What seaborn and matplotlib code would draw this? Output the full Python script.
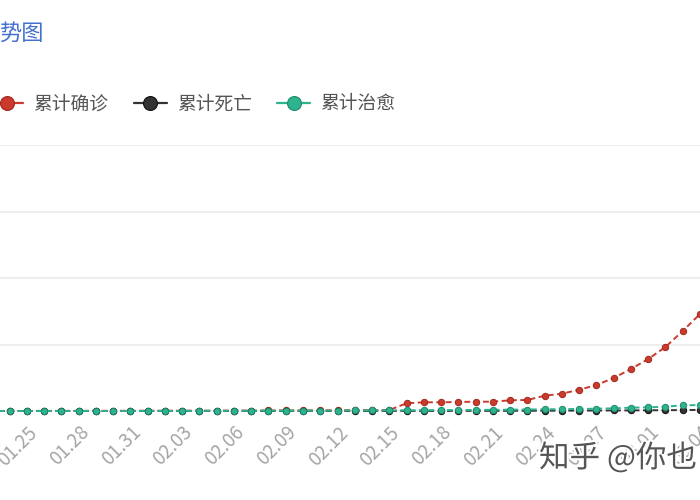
import numpy as np
import pandas as pd
import matplotlib
matplotlib.use("Agg")
import matplotlib.pyplot as plt
import matplotlib.patheffects as pe
from matplotlib.lines import Line2D
import seaborn as sns

# 数据（01.22 ~ 03.04）
dates = pd.date_range("2020-01-22", "2020-03-04", freq="D").strftime("%m.%d").tolist()
confirmed = [1, 1, 2, 2, 3, 4, 5, 5, 6, 7, 8, 9, 10, 11, 12, 13, 15, 16, 18, 19,
             21, 23, 25, 27, 30, 232, 262, 262, 271, 280, 280, 322, 331, 460, 520,
             641, 782, 993, 1263, 1564, 1925, 2406, 2918]
deaths = [0, 0, 0, 0, 0, 0, 0, 0, 0, 0, 0, 0, 0, 0, 0, 0, 0, 0, 0, 0,
          1, 1, 1, 2, 2, 2, 3, 3, 4, 4, 5, 6, 7, 8, 10, 12, 14, 16, 18, 21,
          24, 28, 32]
recovered = [0, 0, 0, 0, 0, 0, 1, 1, 1, 1, 2, 2, 3, 4, 5, 6, 7, 8, 9, 10,
             12, 14, 16, 18, 20, 22, 25, 28, 30, 33, 36, 40, 45, 50, 55, 62,
             70, 80, 100, 110, 130, 170, 180]
series_names = ["累计确诊", "累计死亡", "累计治愈"]
series_colors = ["#cc3a2c", "#333333", "#2db38e"]
edge_colors = ["#9e2a20", "#111111", "#1f8a6c"]

df = pd.DataFrame({"idx": np.arange(len(dates)), "date": dates,
                   "累计确诊": confirmed, "累计死亡": deaths, "累计治愈": recovered})

sns.set_style("white")
plt.rcParams["font.family"] = ["Noto Sans CJK SC", "DejaVu Sans"]

fig = plt.figure(figsize=(7, 5), dpi=100)
ax = fig.add_axes([0, 0.178, 1, 0.532])

for name, c, ec in zip(series_names, series_colors, edge_colors):
    sns.lineplot(data=df, x="idx", y=name, ax=ax, color=c, legend=False,
                 linestyle=(0, (3, 1.8)), linewidth=1.4, marker="o",
                 markersize=4.6, markeredgecolor=ec, markeredgewidth=0.7,
                 clip_on=False, zorder=3)

ax.set_xlim(1.448, 41.68)
ax.set_ylim(0, 8000)
ax.set_yticks([0, 2000, 4000, 6000, 8000])
ax.yaxis.grid(True, color="#ebebeb", linewidth=1.2)
ax.xaxis.grid(False)
for s in ax.spines.values():
    s.set_visible(False)
ax.tick_params(axis="y", left=False, labelleft=False)

tick_idx = list(range(3, len(dates), 3))
ax.set_xticks(tick_idx)
ax.set_xticklabels([dates[i] for i in tick_idx], rotation=45, ha="right",
                   rotation_mode="anchor", color="#a5a5a5", fontsize=13.5)
ax.tick_params(axis="x", length=0, pad=8)
ax.set_xlabel("")
ax.set_ylabel("")

# 图例
handles = [Line2D([], [], color=c, linewidth=1.6, marker="o", markersize=10,
                  markerfacecolor=c, markeredgecolor=ec, markeredgewidth=0.8)
           for c, ec in zip(series_colors, edge_colors)]
leg = fig.legend(handles, series_names, loc="center left", bbox_to_anchor=(-0.038, 0.792),
                 ncol=3, frameon=False, fontsize=13.5, handlelength=1.75,
                 handletextpad=0.55, columnspacing=1.35, labelcolor="#555555")

# 标题（左侧被裁切）
fig.text(-0.002, 0.934, "势图", fontsize=16, color="#4470d0", ha="left", va="center")

# 水印
fig.text(0.770, 0.084, "知乎 @你也", fontsize=22, color="#555555", ha="left", va="center",
         path_effects=[pe.withStroke(linewidth=3, foreground="white")])

fig.savefig("out.png", dpi=100)
